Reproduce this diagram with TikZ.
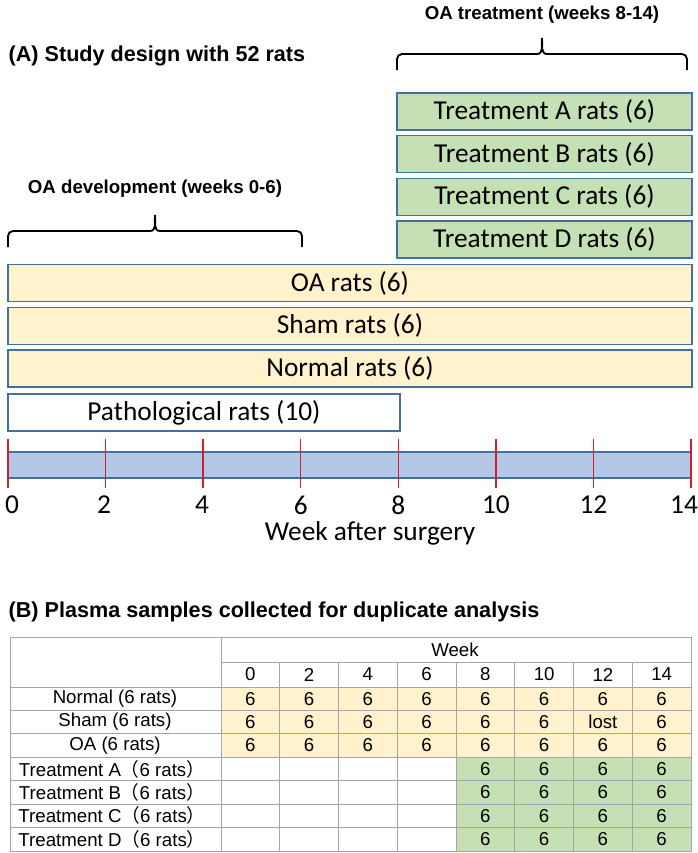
\documentclass[tikz,border=0pt]{standalone}
\usepackage{fontspec}
\setmainfont{Carlito}
\newfontfamily\arialfont{Liberation Sans}
\newfontfamily\cjkfont{Noto Sans CJK SC}
\usepackage{xcolor}
\usepackage{tikz}
\usetikzlibrary{shapes.geometric, arrows, arrows.meta, positioning}
\definecolor{boxline}{HTML}{41719C}
\definecolor{ylw}{HTML}{FFF2CC}
\definecolor{grn}{HTML}{C5E0B4}
\definecolor{barblue}{HTML}{B4C7E7}
\definecolor{tickred}{HTML}{D0202A}
\definecolor{gridgray}{HTML}{A6A6A6}
\tikzstyle{group} = [rectangle,
draw=boxline, line width=1pt,
minimum height=27.75pt, inner sep=0pt,
font=\fontsize{20.5}{24}\selectfont]
\tikzstyle{treat} = [group, fill=grn, minimum width=221.25pt]
\tikzstyle{cohort} = [group, fill=ylw, minimum width=513pt]
\tikzstyle{heading} = [font=\arialfont\bfseries\fontsize{16.2}{20}\selectfont]
\tikzstyle{period} = [font=\arialfont\bfseries\fontsize{14}{17}\selectfont]
\tikzstyle{brace} = [line width=1.4pt]
\tikzstyle{weektick} = [tickred, line width=1.1pt]
\tikzstyle{axis} = [font=\fontsize{20.5}{24}\selectfont]
\tikzstyle{cell} = [font=\arialfont\fontsize{14}{17}\selectfont, inner sep=0pt]
\tikzstyle{tableline} = [gridgray, line width=0.6pt]

\begin{document}
\begin{tikzpicture}[x=0.75pt, y=-0.75pt, node distance=32pt]
\useasboundingbox (0,0) rectangle (697,853);

% (A) study design
\node (titleA) [heading, anchor=west] at (4,56) {(A) Study design with 52 rats};
\node (treatlab) [period] at (542,15) {OA treatment (weeks 8-14)};
\draw [brace] (397,70) -- (397,59) to[out=90,in=180] (402,54) -- (537,54)
  to[out=0,in=-90] (542,38) to[out=-90,in=180] (547,54) -- (682,54)
  to[out=0,in=90] (687,59) -- (687,70);
\node (devlab) [period] at (155,189) {OA development (weeks 0-6)};
\draw [brace] (8,247) -- (8,236) to[out=90,in=180] (13,231) -- (150,231)
  to[out=0,in=-90] (155,215) to[out=-90,in=180] (160,231) -- (297,231)
  to[out=0,in=90] (302,236) -- (302,247);

\node (trtA) [treat] at (544.5,111.5) {Treatment A rats (6)};
\node (trtB) [treat, below of=trtA] {Treatment B rats (6)};
\node (trtC) [treat, below of=trtB] {Treatment C rats (6)};
\node (trtD) [treat, below of=trtC] {Treatment D rats (6)};

\node (oa) [cohort] at (350,283) {OA rats (6)};
\node (sham) [cohort, below of=oa] {Sham rats (6)};
\node (normal) [cohort, below of=sham] {Normal rats (6)};
\node (patho) [group, fill=white, minimum width=294pt] at (204,412.5) {Pathological rats (10)};

\foreach \w in {0,2,...,12}
  \draw [fill=barblue, draw=boxline, line width=0.9pt] ({8+\w*48.786},452) rectangle ({8+(\w+2)*48.786},478);
\foreach \w in {0,2,...,14}
  \draw [weektick] ({8+\w*48.786},439) -- ({8+\w*48.786},488);
\foreach \w/\x in {0/12,2/104,4/202,6/300.7,8/398.3,10/495.9,12/593.4,14/684}
  \node (wk\w) [axis] at (\x,505) {\w};
\node (axislabel) [axis] at (370,533) {Week after surgery};

% (B) plasma samples
\node (titleB) [heading, anchor=west] at (4,612) {(B) Plasma samples collected for duplicate analysis};
\fill [ylw] (221,687) rectangle (691,757.2);
\fill [grn] (456,757.2) rectangle (691,851);
\draw [tableline] (10,637) rectangle (691,851);
\draw [tableline] (221,662) -- (691,662);
\foreach \y in {687,710.4,733.8,757.2,780.6,804,827.4}
  \draw [tableline] (10,\y) -- (691,\y);
\draw [tableline] (221,637) -- (221,851);
\foreach \i in {1,...,7}
  \draw [tableline] ({221+\i*58.75},662) -- ({221+\i*58.75},851);

\node (week) [cell] at (455,649.5) {Week};
\foreach \w [count=\i from 0] in {0,2,...,14}
  \node (h\w) [cell] at ({250.4+\i*58.75},674.5) {\w};
\foreach \lab [count=\r from 0] in {Normal (6 rats),Sham (6 rats),OA (6 rats)}
  \node (row\r) [cell] at (115,{698.7+\r*23.4}) {\lab};
\foreach \t [count=\r from 3] in {A,B,C,D}
  \node (row\r) [cell] at (112,{698.7+\r*23.4}) {Treatment \t{\cjkfont （}6 rats{\cjkfont ）}};
\foreach \vals [count=\r from 0] in {{6,6,6,6,6,6,6,6},{6,6,6,6,6,6,lost,6},{6,6,6,6,6,6,6,6}}
  \foreach \v [count=\i from 0] in \vals
    \node (v\r-\i) [cell] at ({250.4+\i*58.75},{698.7+\r*23.4}) {\v};
\foreach \r in {3,...,6}
  \foreach \i in {4,...,7}
    \node (v\r-\i) [cell] at ({250.4+\i*58.75},{698.7+\r*23.4}) {6};
\end{tikzpicture}
\end{document}
